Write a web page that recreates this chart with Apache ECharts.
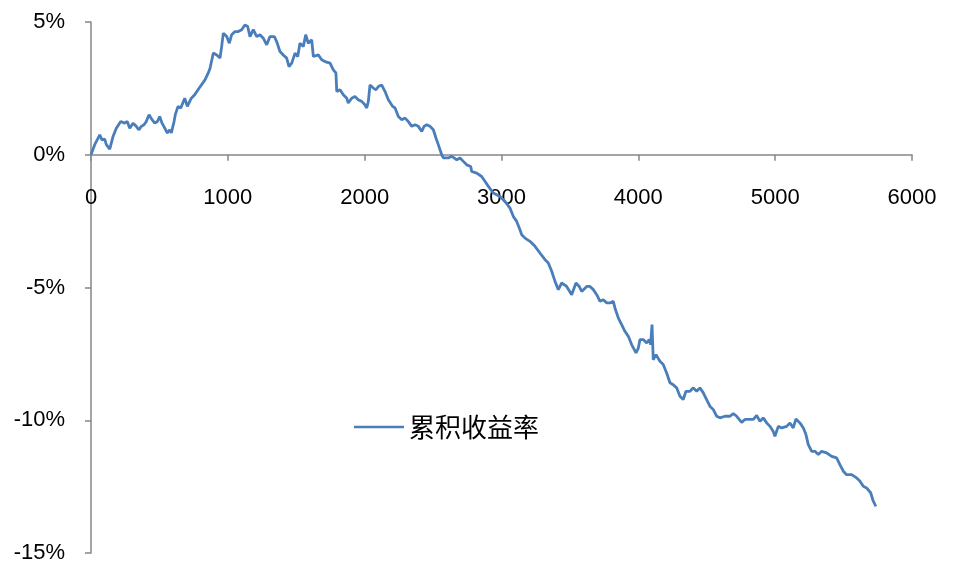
<!DOCTYPE html>
<html>
<head>
<meta charset="utf-8">
<script src="https://cdn.jsdelivr.net/npm/echarts@6/dist/echarts.min.js"></script>
<style>
html,body{margin:0;padding:0;background:#fff;}
#c{width:955px;height:568px;}
</style>
</head>
<body>
<div id="c"></div>
<script>
var seriesName = '累积收益率';
var xTicks = [0, 1000, 2000, 3000, 4000, 5000, 6000];
var yTicks = [-15, -10, -5, 0, 5];
var xs = [0,27,64,80,100,112,137,161,185,217,246,265,283,307,331,349,368,387,404,424,446,466,485,502,519,539,558,575,587,607,616,636,656,685,704,733,758,782,833,857,870,894,919,930,943,955,967,979,992,1011,1028,1052,1076,1101,1125,1145,1162,1186,1211,1235,1259,1284,1308,1340,1357,1381,1405,1430,1447,1467,1491,1511,1527,1552,1569,1588,1600,1613,1625,1661,1686,1710,1747,1771,1790,1796,1820,1844,1869,1880,1905,1929,1953,1978,2002,2015,2027,2039,2063,2083,2100,2124,2149,2173,2205,2222,2246,2271,2295,2319,2344,2368,2392,2417,2434,2453,2477,2502,2521,2538,2563,2575,2611,2636,2653,2673,2697,2721,2746,2775,2782,2819,2855,2879,2904,2940,2989,3026,3062,3086,3111,3130,3148,3172,3208,3245,3281,3318,3342,3367,3391,3415,3440,3476,3513,3544,3568,3586,3623,3647,3671,3696,3720,3744,3769,3793,3817,3829,3854,3878,3902,3927,3951,3983,4000,4012,4036,4061,4080,4090,4100,4109,4129,4158,4182,4207,4231,4255,4280,4304,4328,4348,4377,4402,4426,4450,4475,4499,4523,4548,4573,4597,4633,4670,4694,4719,4755,4779,4804,4840,4865,4889,4913,4938,4962,4986,4998,5023,5048,5084,5108,5132,5152,5181,5206,5225,5242,5267,5291,5315,5340,5376,5413,5449,5473,5498,5522,5559,5595,5620,5644,5668,5698,5717,5736];
var ys = [0,0.38,0.75,0.56,0.59,0.38,0.21,0.69,1.00,1.25,1.19,1.25,1.00,1.19,1.07,0.94,1.07,1.13,1.25,1.51,1.32,1.19,1.25,1.44,1.19,1.00,0.82,0.94,0.82,1.25,1.51,1.82,1.76,2.13,1.82,2.13,2.26,2.45,2.82,3.08,3.26,3.83,3.76,3.83,3.64,4.08,4.58,4.64,4.45,4.20,4.52,4.64,4.64,4.71,4.89,4.83,4.45,4.71,4.45,4.52,4.39,4.14,4.45,4.45,4.26,3.89,3.76,3.64,3.32,3.45,3.83,3.70,4.20,4.08,4.52,4.20,4.20,4.33,3.70,3.76,3.58,3.51,3.45,3.20,3.08,2.38,2.45,2.26,2.13,1.95,2.13,2.19,2.07,2.01,1.88,1.76,2.01,2.63,2.51,2.45,2.57,2.63,2.38,2.07,1.82,1.76,1.44,1.32,1.38,1.25,1.07,1.13,1.07,0.88,1.07,1.13,1.07,0.94,0.63,0.38,0.00,-0.12,-0.12,-0.06,-0.12,-0.19,-0.12,-0.25,-0.38,-0.44,-0.63,-0.69,-0.82,-1.00,-1.19,-1.44,-1.57,-1.76,-2.01,-2.32,-2.51,-2.76,-3.01,-3.14,-3.26,-3.45,-3.70,-3.95,-4.08,-4.39,-4.77,-5.08,-4.83,-4.96,-5.27,-4.83,-4.96,-5.15,-4.96,-4.96,-5.08,-5.27,-5.52,-5.46,-5.58,-5.58,-5.52,-5.77,-6.15,-6.40,-6.65,-6.84,-7.15,-7.46,-7.28,-6.96,-6.96,-7.09,-6.96,-7.15,-6.40,-7.72,-7.53,-7.78,-7.90,-8.22,-8.59,-8.66,-8.78,-9.10,-9.22,-8.91,-8.91,-8.78,-8.91,-8.78,-8.97,-9.22,-9.47,-9.60,-9.85,-9.91,-9.85,-9.85,-9.75,-9.85,-10.08,-9.97,-9.97,-9.97,-9.82,-10.04,-9.91,-10.10,-10.23,-10.42,-10.60,-10.23,-10.29,-10.23,-10.10,-10.29,-9.95,-10.10,-10.29,-10.54,-10.92,-11.17,-11.17,-11.29,-11.17,-11.23,-11.36,-11.42,-11.67,-11.92,-12.05,-12.05,-12.17,-12.30,-12.49,-12.55,-12.73,-13.05,-13.24];

var data = xs.map(function (x, i) { return [x, ys[i]]; });
var axisColor = '#868686';
var font = "'Liberation Sans', Arial, sans-serif";

var W = 955, H = 568;
var gridTop = 22, gridBottom = 15;
var yMin = yTicks[0], yMax = yTicks[yTicks.length - 1];
var plotH = H - gridTop - gridBottom;
// move the x axis (line, ticks, labels) up to the y = 0 position
var zeroOffset = -plotH * (0 - yMin) / (yMax - yMin);

var chart = echarts.init(document.getElementById('c'), null, {renderer: 'canvas'});
chart.setOption({
  animation: false,
  backgroundColor: '#ffffff',
  grid: {left: 91, right: 43, top: gridTop, bottom: gridBottom, containLabel: false, outerBoundsMode: 'none'},
  legend: {
    show: true,
    left: 349,
    top: 409,
    icon: 'rect',
    itemWidth: 50,
    itemHeight: 2.5,
    textStyle: {fontSize: 26, color: '#000', fontFamily: "'Noto Sans CJK SC', sans-serif"},
    data: [seriesName]
  },
  xAxis: {
    type: 'value',
    min: xTicks[0],
    max: xTicks[xTicks.length - 1],
    interval: 1000,
    offset: zeroOffset,
    axisLine: {show: true, onZero: false, lineStyle: {color: axisColor, width: 1.5}},
    axisTick: {show: true, inside: false, length: 6, lineStyle: {color: axisColor, width: 1.5}},
    axisLabel: {margin: 32, fontSize: 22, color: '#000', fontFamily: font, formatter: function (v) { return String(v); }},
    splitLine: {show: false}
  },
  yAxis: {
    type: 'value',
    min: yMin,
    max: yMax,
    interval: 5,
    axisLine: {show: true, onZero: false, lineStyle: {color: axisColor, width: 1.5}},
    axisTick: {show: true, inside: false, length: 6, lineStyle: {color: axisColor, width: 1.5}},
    axisLabel: {margin: 26, fontSize: 22, color: '#000', fontFamily: font, formatter: function (v) { return v + '%'; }},
    splitLine: {show: false}
  },
  series: [{
    name: seriesName,
    type: 'line',
    data: data,
    showSymbol: false,
    symbol: 'none',
    smooth: false,
    lineStyle: {color: '#4A7EBB', width: 2.8},
    itemStyle: {color: '#4A7EBB'}
  }]
});
</script>
</body>
</html>
